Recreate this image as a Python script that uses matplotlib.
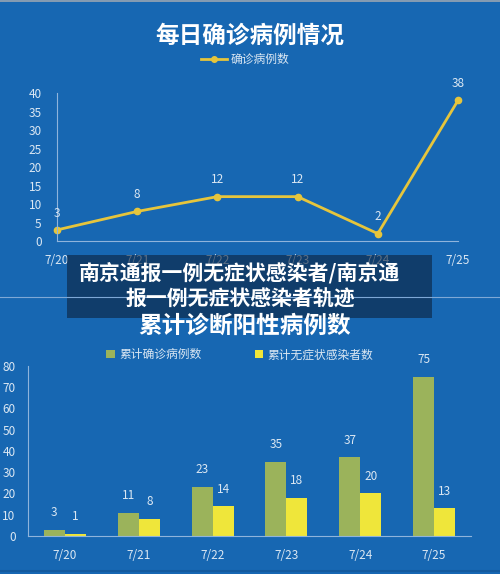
import matplotlib.pyplot as plt
from matplotlib.patches import Rectangle
from matplotlib.lines import Line2D

plt.rcParams['font.family'] = ['Noto Sans CJK SC', 'DejaVu Sans']

dates = ['7/20', '7/21', '7/22', '7/23', '7/24', '7/25']
daily_cases = [3, 8, 12, 12, 2, 38]
total_confirmed = [3, 11, 23, 35, 37, 75]
total_asymptomatic = [1, 8, 14, 18, 20, 13]

bg = '#1767b2'
txt = '#dbe7f3'
axis_col = '#8fb4dc'
line_col = '#e6c53c'
green = '#9bb35b'
yellow = '#efe63a'

fig = plt.figure(figsize=(5, 5.74), dpi=100)
fig.patch.set_facecolor(bg)

# top panel: daily cases line chart
ax1 = fig.add_axes([0.114, 0.5801, 0.802, 0.2578])
ax1.set_facecolor('none')
x1 = list(range(len(dates)))
ax1.plot(x1, daily_cases, color=line_col, lw=2, marker='o', ms=4.5, clip_on=False)
for xi, v in zip(x1, daily_cases):
    ax1.text(xi, v + 2.8, str(v), ha='center', va='bottom', color=txt, fontsize=8.5)
ax1.set_xlim(0, 5)
ax1.set_ylim(0, 40)
ax1.set_yticks(range(0, 41, 5))
ax1.set_xticks(x1)
ax1.set_xticklabels(dates)
ax1.tick_params(length=0, colors=txt, labelsize=8.5)
ax1.tick_params(axis='x', pad=9)
ax1.tick_params(axis='y', pad=11)
for s in ['top', 'right']:
    ax1.spines[s].set_visible(False)
for s in ['left', 'bottom']:
    ax1.spines[s].set_color(axis_col)
    ax1.spines[s].set_linewidth(0.8)

fig.text(0.5, 0.938, '每日确诊病例情况', ha='center', va='center', color='white',
         fontsize=17, fontweight='bold')
fig.legend(handles=[Line2D([], [], color=line_col, lw=2, marker='o', ms=4)],
           labels=['确诊病例数'], loc='center', bbox_to_anchor=(0.49, 0.896),
           frameon=False, fontsize=8.5, labelcolor=txt, handlelength=2.2,
           handletextpad=0.3)

# separator between the two panels, thin edges at top and bottom
fig.add_artist(Line2D([0, 1], [0.4826, 0.4826], color='#7ea8d6', lw=0.8))
fig.add_artist(Line2D([0, 1], [0.999, 0.999], color='#9aa6b2', lw=1.2))
fig.add_artist(Line2D([0, 1], [0.006, 0.006], color='#135a9e', lw=1.5))

# bottom panel: cumulative bar chart
ax2 = fig.add_axes([0.056, 0.0662, 0.886, 0.2962])
ax2.set_facecolor('none')
w = 0.285
x2 = list(range(len(dates)))
ax2.bar([x - w / 2 for x in x2], total_confirmed, width=w, color=green, label='累计确诊病例数')
ax2.bar([x + w / 2 for x in x2], total_asymptomatic, width=w, color=yellow, label='累计无症状感染者数')
for xi, a, b in zip(x2, total_confirmed, total_asymptomatic):
    ax2.text(xi - w / 2, a + 5, str(a), ha='center', va='bottom', color=txt, fontsize=8.5)
    ax2.text(xi + w / 2, b + 5, str(b), ha='center', va='bottom', color=txt, fontsize=8.5)
ax2.set_xlim(-0.5, 5.5)
ax2.set_ylim(0, 80)
ax2.set_yticks(range(0, 81, 10))
ax2.set_xticks(x2)
ax2.set_xticklabels(dates)
ax2.tick_params(length=0, colors=txt, labelsize=8.5)
ax2.tick_params(axis='x', pad=9)
ax2.tick_params(axis='y', pad=9)
for s in ['top', 'right']:
    ax2.spines[s].set_visible(False)
for s in ['left', 'bottom']:
    ax2.spines[s].set_color(axis_col)
    ax2.spines[s].set_linewidth(0.8)

fig.text(0.49, 0.432, '累计诊断阳性病例数', ha='center', va='center', color='white',
         fontsize=17, fontweight='bold')
fig.legend(loc='center', bbox_to_anchor=(0.48, 0.382), ncol=2, frameon=False,
           fontsize=8.5, labelcolor=txt, handlelength=0.7, handleheight=0.7,
           handletextpad=0.4, columnspacing=4.5)

# dark caption band laid over the picture
fig.add_artist(Rectangle((0.134, 0.446), 0.73, 0.11, transform=fig.transFigure,
                         facecolor='#0d2440', alpha=0.62, edgecolor='none'))
fig.text(0.48, 0.524, '南京通报一例无症状感染者/南京通', ha='center', va='center',
         color='white', fontsize=15, fontweight='bold')
fig.text(0.48, 0.481, '报一例无症状感染者轨迹', ha='center', va='center',
         color='white', fontsize=15, fontweight='bold')

fig.savefig('out.png', dpi=100, facecolor=fig.get_facecolor())
